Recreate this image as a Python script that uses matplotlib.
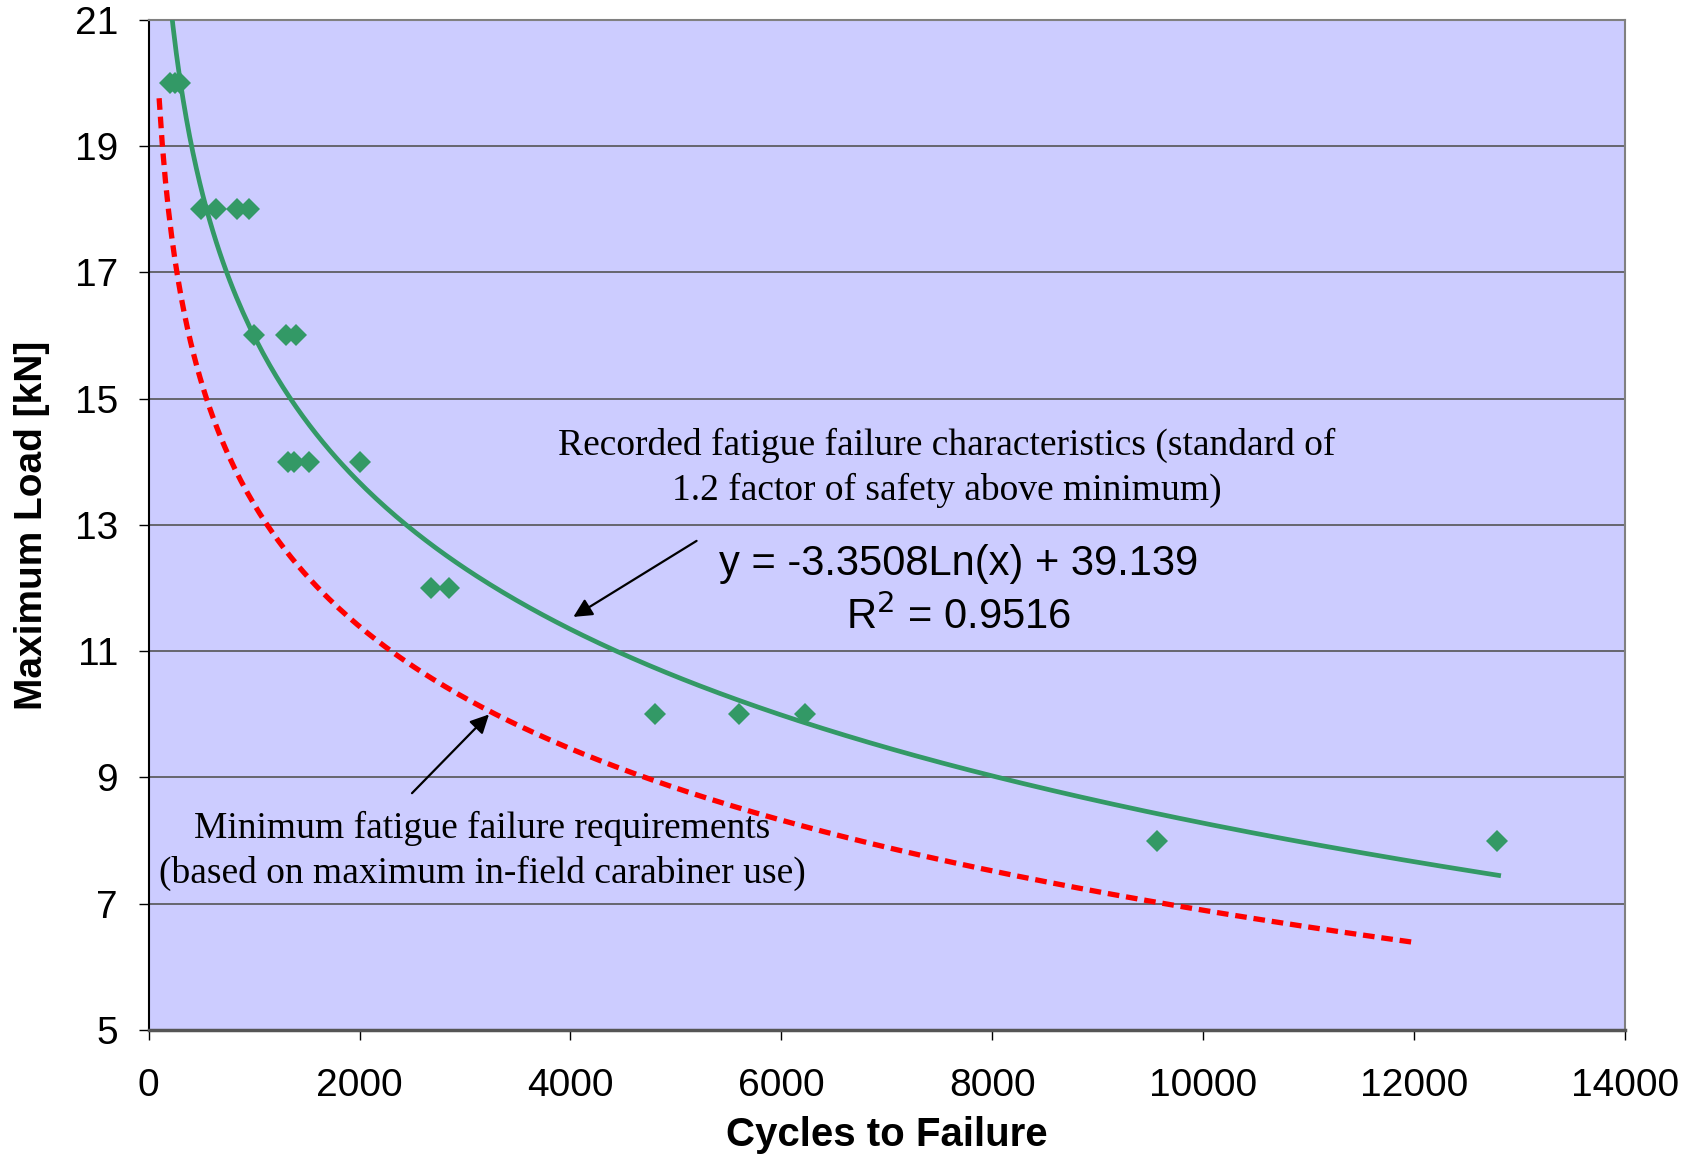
import matplotlib
matplotlib.use("Agg")

import matplotlib.pyplot as plt
import numpy as np

# measured fatigue test points (cycles, max load kN)
cycles = [200, 250, 300, 500, 640, 840, 950, 1000, 1300, 1400,
          1320, 1380, 1520, 2000, 2680, 2850, 4800, 5600, 6220, 9560, 12780]
loads = [20, 20, 20, 18, 18, 18, 18, 16, 16, 16,
         14, 14, 14, 14, 12, 12, 10, 10, 10, 8, 8]

# log trendline printed on the chart
SLOPE = -3.3508
INTERCEPT = 39.139
R2 = 0.9516
SAFETY = 1.2          # recorded curve sits 1.2x above the minimum
trend_range = (200, 12800)
min_range = (100, 12000)

x_ticks = [0, 2000, 4000, 6000, 8000, 10000, 12000, 14000]
y_ticks = [5, 7, 9, 11, 13, 15, 17, 19, 21]

GREEN = "#339966"
RED = "#FF0000"

fig = plt.figure(figsize=(17, 11.6), dpi=100)
ax = fig.add_axes([0.0874, 0.112, 0.956 - 0.0874, 0.983 - 0.112])
ax.set_facecolor("#CCCCFF")

# trendline and the minimum requirement curve
xt = np.linspace(trend_range[0], trend_range[1], 400)
ax.plot(xt, SLOPE * np.log(xt) + INTERCEPT, color=GREEN, lw=3.4, zorder=3)
xm = np.linspace(min_range[0], min_range[1], 400)
ax.plot(xm, (SLOPE * np.log(xm) + INTERCEPT) / SAFETY, color=RED, lw=3.8,
        dashes=(2.2, 1.3), zorder=3)

ax.plot(cycles, loads, linestyle="none", marker="D", ms=11, color=GREEN,
        markeredgewidth=0, zorder=4)

ax.set_xlim(0, 14000)
ax.set_ylim(5, 21)
ax.set_xticks(x_ticks)
ax.set_yticks(y_ticks)
ax.yaxis.grid(True, color="#555555", lw=1.2)
ax.set_axisbelow(True)

for s in ["top", "right"]:
    ax.spines[s].set_color("#808080")
    ax.spines[s].set_linewidth(1.5)
ax.spines["left"].set_color("black")
ax.spines["left"].set_linewidth(1.5)
ax.spines["bottom"].set_color("#555555")
ax.spines["bottom"].set_linewidth(2.5)

ax.tick_params(axis="y", direction="out", length=7, width=1, labelsize=28, pad=15)
ax.tick_params(axis="x", direction="out", length=7, width=1, labelsize=28, pad=20)
for lab in ax.get_xticklabels() + ax.get_yticklabels():
    lab.set_family("Liberation Sans")

ax.set_xlabel("Cycles to Failure", fontsize=29, fontweight="bold",
              family="Liberation Sans", labelpad=9)
ax.set_ylabel("Maximum Load [kN]", fontsize=28, fontweight="bold",
              family="Liberation Sans", labelpad=18)

# annotations
ax.text(7569, 13.9, "Recorded fatigue failure characteristics (standard of\n"
        "1.2 factor of safety above minimum)", ha="center", va="center",
        fontsize=27, family="Liberation Serif", linespacing=1.37)
ax.text(7682, 11.95, "y = %.4fLn(x) + %.3f\nR$^2$ = %.4f" % (SLOPE, INTERCEPT, R2),
        ha="center", va="center", fontsize=30, family="Liberation Sans",
        linespacing=1.34)
ax.annotate("", xy=(4005, 11.52), xytext=(5218, 12.77),
            arrowprops=dict(arrowstyle="-|>", color="black", lw=1.6,
                            mutation_scale=28))
ax.annotate("", xy=(3246, 10.03), xytext=(2479, 8.72),
            arrowprops=dict(arrowstyle="-|>", color="black", lw=1.6,
                            mutation_scale=28))
ax.text(3161, 7.84, "Minimum fatigue failure requirements\n"
        "(based on maximum in-field carabiner use)", ha="center", va="center",
        fontsize=27, family="Liberation Serif", linespacing=1.37)

fig.savefig("out.png", dpi=100)
